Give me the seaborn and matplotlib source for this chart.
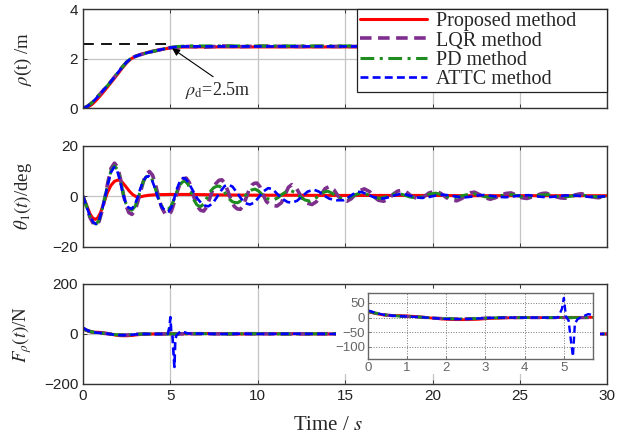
import matplotlib
matplotlib.use("Agg")
import matplotlib.pyplot as plt
import seaborn as sns
from matplotlib.lines import Line2D
from matplotlib.patches import Rectangle

# ---------------- data ----------------
methods = ["Proposed method", "LQR method", "PD method", "ATTC method"]

# rho(t) [m]
t_rho = [0, 0.25, 0.5, 0.75, 1.0, 1.25, 1.5, 1.75, 2.0, 2.25, 2.5, 2.75, 3.0, 3.25, 3.5,
         3.75, 4.0, 4.5, 5.0, 5.5, 6, 7, 8, 9, 10, 12, 14, 16, 18, 20, 22, 24, 26, 28, 30]
rho_prop = [0, 0.04, 0.15, 0.32, 0.52, 0.73, 0.95, 1.17, 1.4, 1.63, 1.84, 2.0, 2.1, 2.17, 2.22,
            2.27, 2.31, 2.38, 2.44, 2.47, 2.48, 2.48, 2.48, 2.48, 2.48, 2.48, 2.48, 2.48, 2.48,
            2.48, 2.48, 2.48, 2.48, 2.48, 2.48]
rho_lqr = [0, 0.08, 0.22, 0.4, 0.6, 0.8, 1.0, 1.22, 1.45, 1.67, 1.87, 2.02, 2.1, 2.16, 2.21,
           2.26, 2.3, 2.38, 2.45, 2.48, 2.5, 2.47, 2.52, 2.49, 2.51, 2.5, 2.5, 2.5, 2.5,
           2.5, 2.5, 2.5, 2.5, 2.5, 2.5]
rho_pd = [0, 0.08, 0.22, 0.4, 0.6, 0.8, 1.0, 1.22, 1.45, 1.67, 1.87, 2.02, 2.1, 2.16, 2.21,
          2.26, 2.3, 2.38, 2.46, 2.5, 2.52, 2.52, 2.52, 2.52, 2.52, 2.52, 2.52, 2.52, 2.52,
          2.52, 2.52, 2.52, 2.52, 2.52, 2.52]
rho_attc = [0, 0.08, 0.22, 0.4, 0.6, 0.8, 1.0, 1.22, 1.45, 1.67, 1.87, 2.02, 2.1, 2.16, 2.21,
            2.26, 2.3, 2.38, 2.45, 2.49, 2.5, 2.5, 2.5, 2.5, 2.5, 2.5, 2.5, 2.5, 2.5,
            2.5, 2.5, 2.5, 2.5, 2.5, 2.5]
rho_d_t = [0, 5.1]
rho_d_v = [2.6, 2.6]

# theta_1(t) [deg]
t_th_prop = [0, 0.2, 0.4, 0.55, 0.7, 0.85, 1.0, 1.2, 1.4, 1.6, 1.8, 2.0, 2.1, 2.25, 2.45, 2.65,
             2.85, 3.05, 3.25, 3.5, 3.8, 4.2, 5, 6, 7, 8, 10, 12, 14, 16, 18, 20, 22, 24, 26, 28, 30]
th_prop = [0, -3.5, -7, -8.6, -9.2, -8.5, -6.5, -2.5, 1.5, 4.3, 5.9, 6.4, 6.3, 5.5, 3.8, 2.0,
           0.6, -0.2, -0.3, 0.1, 0.4, 0.6, 0.7, 0.7, 0.6, 0.5, 0.4, 0.4, 0.3, 0.3, 0.3, 0.3,
           0.2, 0.2, 0.2, 0.2, 0.2]

t_th_lqr = [0, 0.2, 0.4, 0.6, 0.75, 0.92, 1.1, 1.27, 1.42, 1.6, 1.8, 1.98, 2.14, 2.3, 2.45, 2.62,
            2.8, 2.98, 3.14, 3.3, 3.46, 3.62, 3.8, 3.98, 4.15, 4.33, 4.5, 4.7, 4.88, 5.05, 5.22,
            5.38, 5.55, 5.72, 5.9, 6.08, 6.24, 6.4, 6.56, 6.73, 6.9, 7.07, 7.24, 7.42, 7.6, 7.78,
            7.95, 8.12, 8.3, 8.47, 8.65, 8.82, 9.0, 9.17, 9.34, 9.5, 9.66, 9.8, 9.95, 10.12, 10.3,
            10.5, 10.78, 11.1, 11.35, 11.55, 11.75, 11.95, 12.2, 12.45, 12.75, 13.1, 13.35, 13.6,
            13.85, 14.1, 14.35, 14.6, 14.85, 15.1, 15.35, 15.6, 15.85, 16.1, 16.4, 16.65, 16.9,
            17.2, 17.5, 17.75, 18.0, 18.3, 18.55, 18.8, 19.05, 19.3, 19.55, 19.8, 20.2, 20.5,
            20.8, 21.1, 21.4, 21.7, 21.95, 22.2, 22.4, 22.7, 23.0, 23.3, 23.6, 23.9, 24.2, 24.5,
            24.8, 25.1, 25.4, 25.7, 26.0, 26.3, 26.5, 26.8, 27.1, 27.35, 27.6, 27.9, 28.2, 28.5,
            28.8, 29.1, 29.35, 29.5, 29.75, 30]
th_lqr = [0, -4, -8.5, -11, -11.5, -10, -5.5, 0, 5.5, 11, 13.1, 11.5, 7, 1, -3.5, -6.5,
          -7.2, -5.5, -2, 2, 6, 8.8, 9.8, 8.3, 4.5, -0.5, -4.5, -7, -7.6, -6, -2.5,
          1.5, 5, 6.8, 7.2, 5.5, 2, -1.5, -4.2, -5.6, -5.9, -4.4, -1, 2.5, 5, 6.3,
          6.5, 5, 1.8, -1.5, -4, -5, -5.2, -3.8, -0.5, 2.5, 4.4, 5.1, 5.2, 3.8, 0.6,
          -2.2, -3.6, -3.9, -2.6, 0.5, 3.5, 4.6, 3.3, 0.2, -2.6, -3.3, -2.2, 0.5,
          3, 3.9, 2.6, 0, -1.6, -2.0, -1, 0.8, 2.3, 2.9, 1.8, -0.2, -1.6,
          -2.0, -1, 0.8, 2.0, 2.4, 1.4, 0, -0.7, -0.8, 0, 1.3, 2.0, 1,
          -0.6, -1.6, -1.8, -0.8, 0.6, 1.4, 1.6, 0.6, -0.6, -1.2, -0.6, 0.4, 1.1, 1.3,
          0.4, -0.6, -0.9, -0.3, 0.5, 1.1, 1.2, 0.5, -0.3, -0.7, -0.8, -0.2, 0.6, 1.0,
          0.5, -0.2, -0.5, -0.6, -0.2, 0.2]

t_th_pd = [0, 0.2, 0.4, 0.6, 0.75, 0.92, 1.1, 1.27, 1.42, 1.6, 1.8, 1.98, 2.14, 2.3, 2.45, 2.62,
           2.8, 2.98, 3.14, 3.3, 3.45, 3.6, 3.75, 3.93, 4.1, 4.3, 4.48, 4.67, 4.85, 5.02, 5.2,
           5.37, 5.53, 5.7, 5.85, 6.02, 6.18, 6.35, 6.5, 6.62, 6.75, 6.92, 7.1, 7.3, 7.48, 7.65,
           7.8, 7.98, 8.17, 8.38, 8.55, 8.7, 8.85, 9.05, 9.25, 9.45, 9.65, 9.85, 10.05, 10.3,
           10.55, 10.9, 11.15, 11.4, 11.65, 11.9, 12.15, 12.4, 12.7, 13.0, 13.25, 13.5, 13.75,
           14.0, 14.25, 14.5, 14.75, 15.0, 15.25, 15.5, 15.75, 16.0, 16.3, 16.55, 16.8, 17.0,
           17.3, 17.6, 17.85, 18.1, 18.4, 18.7, 19.0, 19.2, 19.5, 19.8, 20.2, 20.5, 20.8, 21.1,
           21.3, 21.6, 21.9, 22.2, 22.4, 22.7, 23.0, 23.4, 23.7, 24.0, 24.5, 24.8, 25.1, 25.5,
           25.8, 26.1, 26.6, 26.9, 27.2, 27.6, 27.9, 28.2, 28.6, 28.9, 29.3, 29.6, 30]
th_pd = [0, -4, -8.2, -10.5, -11, -9.5, -5, 0, 5, 10, 12, 10.5, 6.5, 1, -2.8, -5,
         -5.5, -4, -1, 2.5, 5.8, 7.6, 8.2, 7, 3.8, -0.5, -3.8, -5, -5.3, -4.2, -1.5,
         1.8, 4.4, 5.7, 6, 4.6, 1.6, -1.5, -3.3, -3.9, -4, -3, -0.5, 2, 3.4, 3.9,
         4, 3, 0.8, -1.2, -2.2, -2.5, -2.6, -1.7, 0, 1.6, 2.5, 2.8, 2, 0.3,
         -1, -1.5, -0.6, 0.8, 1.9, 2.2, 1.4, -0.2, -1.5, -2, -1.2, 0.3, 1.5,
         2, 1.2, 0, -0.8, -1, -0.4, 0.4, 1, 1.2, 0.6, -0.2, -0.7, -0.8,
         -0.3, 0.4, 0.9, 1, 0.4, -0.3, -0.6, -0.6, 0, 0.8, 1.2, 0.6, -0.2, -0.5,
         -0.5, 0, 0.5, 0.8, 0.9, 0.4, -0.2, -0.4, -0.1, 0.3, 0.6, 0.3, -0.2, -0.3,
         0, 0.4, 0.6, 0.2, -0.1, -0.3, 0, 0.3, 0.4, 0.1, -0.2, -0.2, 0]

t_th_attc = [0, 0.2, 0.4, 0.6, 0.75, 0.92, 1.1, 1.27, 1.42, 1.6, 1.78, 1.96, 2.12, 2.28, 2.44,
             2.6, 2.78, 2.96, 3.12, 3.28, 3.44, 3.6, 3.75, 3.92, 4.1, 4.28, 4.48, 4.7, 4.9,
             5.07, 5.22, 5.38, 5.55, 5.72, 5.85, 6.05, 6.3, 6.55, 6.8, 7.0, 7.17, 7.4, 7.65,
             7.9, 8.1, 8.3, 8.55, 8.8, 9.05, 9.3, 9.55, 9.8, 10.05, 10.3, 10.6, 10.85, 11.1,
             11.4, 11.7, 11.95, 12.25, 12.55, 12.85, 13.2, 13.5, 13.8, 14.1, 14.5, 14.9, 15.2,
             15.45, 15.7, 16.0, 16.3, 16.6, 16.9, 17.2, 17.5, 17.8, 18.1, 18.4, 18.7, 19.0,
             19.4, 19.8, 20.2, 20.6, 21.0, 21.4, 21.8, 22.2, 22.6, 23.0, 23.4, 23.8, 24.2,
             24.6, 25.0, 25.5, 25.9, 26.3, 26.8, 27.2, 27.6, 28.1, 28.6, 29.0, 29.5, 30]
th_attc = [0, -4, -8, -10.5, -11, -9.5, -5, 0, 4.8, 9.5, 11.5, 10, 6, 1, -2.5,
           -4.5, -5, -3.5, -0.5, 3, 6, 7.6, 8, 6.8, 3.5, -0.5, -4, -5.8, -6,
           -4.2, -0.8, 3, 6, 7.2, 7, 5.2, 2, -1, -3, -3.8, -4, -3, -0.5,
           2.2, 4, 4.6, 3.8, 1.5, -1, -2.8, -3.3, -2.5, -0.5, 1.8, 3.2, 2.8, 1,
           -1, -2.3, -2.6, -1.8, 0, 1.8, 2.6, 1.8, 0.2, -1, -1.6, -1.6, -0.4,
           0.8, 1.8, 1.5, 0.6, -0.3, -0.8, -0.9, -0.4, 0.3, 0.8, 0.8, 0.2, -0.4,
           -0.7, -0.3, 0.3, 0.6, 0.3, -0.2, -0.5, -0.2, 0.3, 0.5, 0.1, -0.3, -0.4,
           -0.1, 0.3, 0.4, 0, -0.3, -0.3, 0, 0.3, 0.3, 0, -0.3, -0.2, 0]

# F_rho(t) [N]
t_f = [0, 0.2, 0.4, 0.6, 0.8, 1.0, 1.3, 1.6, 1.9, 2.2, 2.5, 2.8, 3.1, 3.5, 4, 4.5, 5, 5.5,
       6, 7, 8, 9, 10, 12, 14, 16, 18, 20, 22, 24, 26, 28, 30]
f_prop = [20, 14, 9, 7, 7, 6, 3, -1, -5, -7, -7, -6, -3, -1, 0, 0, 1, 1,
          1, 2, 1, 0, 1, 1, 0, 1, 0, 0, 0, 0, 0, 0, 0]
f_lqr = [22, 15, 10, 7, 5, 4, 2, -1, -3, -4, -4, -3, -1, 0, 0, 0, 0, 0,
         1, 1, 0, 1, 1, 0, 1, 0, 0, 0, 0, 0, 0, 0, 0]
f_pd = [22, 15, 10, 7, 5, 4, 2, -1, -3, -4, -4, -3, -1, 0, 0, 0, 0, 0,
        1, 1, 0, 1, 1, 0, 1, 0, 0, 0, 0, 0, 0, 0, 0]
t_f_attc = [0, 0.2, 0.4, 0.6, 0.8, 1.0, 1.3, 1.6, 1.9, 2.2, 2.5, 2.8, 3.1, 3.5, 4, 4.5, 4.85,
            4.95, 5.0, 5.05, 5.12, 5.18, 5.23, 5.28, 5.35, 5.5, 5.62, 5.75, 6, 7, 8, 9, 10,
            12, 14, 16, 18, 20, 22, 24, 26, 28, 30]
f_attc = [25, 16, 10, 7, 5, 4, 2, -1, -4, -5, -5, -3, -1, 0, 0, 0, 0,
          30, 67, 5, -10, -80, -132, -20, -5, 5, 12, 8, 2, 1, 0, 1, 0,
          1, 0, 0, 0, 0, 0, 0, 0, 0, 0]

x_ticks = [0, 5, 10, 15, 20, 25, 30]
inset_xticks = [0, 1, 2, 3, 4, 5]
inset_yticks = [50, 0, -50, -100]

# ---------------- styling ----------------
sns.set_style("ticks")
plt.rcParams.update({
    "font.family": ["Liberation Sans", "DejaVu Sans"],
    "mathtext.fontset": "stix",
    "xtick.direction": "in", "ytick.direction": "in",
    "xtick.top": True, "ytick.right": True,
    "xtick.major.size": 3, "ytick.major.size": 3,
    "xtick.major.width": 0.6, "ytick.major.width": 0.6,
    "axes.edgecolor": "#333333", "axes.linewidth": 1.0,
})

styles = {
    "Proposed method": dict(color="#ff0000", lw=2.2, dashes=None),
    "LQR method": dict(color="#7e2f8e", lw=2.6, dashes=(3.2, 1.8)),
    "PD method": dict(color="#1e8c1e", lw=2.2, dashes=(4.5, 1.8, 1.0, 1.8)),
    "ATTC method": dict(color="#0000ff", lw=1.9, dashes=(3.0, 1.6)),
}


def draw(ax, t, v, key, scale=1.0):
    st = styles[key]
    sns.lineplot(x=t, y=v, ax=ax, color=st["color"], lw=st["lw"] * scale,
                 estimator=None, sort=False, legend=False)
    line = ax.lines[-1]
    if st["dashes"] is not None:
        line.set_dashes(st["dashes"])


W, H = 629, 441
fig = plt.figure(figsize=(6.29, 4.41), dpi=100)
ax1 = fig.add_axes([0.132, 0.7544, 0.8335, 0.2245])
ax2 = fig.add_axes([0.132, 0.4406, 0.8335, 0.2290])
ax3 = fig.add_axes([0.132, 0.1293, 0.8335, 0.2268])

serif = ["Liberation Serif", "DejaVu Serif"]

# top panel
ax1.plot(rho_d_t, rho_d_v, color="k", lw=1.3, ls=(0, (6, 4)))
draw(ax1, t_rho, rho_prop, "Proposed method")
draw(ax1, t_rho, rho_lqr, "LQR method")
draw(ax1, t_rho, rho_pd, "PD method")
draw(ax1, t_rho, rho_attc, "ATTC method")
ax1.set_ylim(0, 4)
ax1.set_yticks([0, 2, 4])
ax1.set_ylabel(r"$\rho$(t) /m", family=serif, fontsize=13.5)
ax1.annotate(r"$\rho_{\mathrm{d}}$=2.5m", xy=(5.1, 2.42), xytext=(5.85, 0.72),
             fontsize=13, family=serif, ha="left", va="center",
             arrowprops=dict(arrowstyle="-|>", color="k", lw=0.8, mutation_scale=11,
                             shrinkA=0, shrinkB=0, relpos=(0.5, 1.0)))

# middle panel
draw(ax2, t_th_prop, th_prop, "Proposed method")
draw(ax2, t_th_lqr, th_lqr, "LQR method")
draw(ax2, t_th_pd, th_pd, "PD method")
draw(ax2, t_th_attc, th_attc, "ATTC method")
ax2.set_ylim(-20, 20)
ax2.set_yticks([-20, 0, 20])
ax2.set_ylabel(r"$\theta_1(t)$/deg", family=serif, fontsize=13.5)

# bottom panel
draw(ax3, t_f, f_prop, "Proposed method")
draw(ax3, t_f, f_lqr, "LQR method")
draw(ax3, t_f, f_pd, "PD method")
draw(ax3, t_f_attc, f_attc, "ATTC method")
ax3.set_ylim(-200, 200)
ax3.set_yticks([-200, 0, 200])
ax3.set_ylabel(r"$F_\rho(t)$/N", family=serif, fontsize=13.5)
ax3.set_xlabel(r"Time / $\mathit{s}$", family=serif, fontsize=15)
ax3.xaxis.set_label_coords(0.467, -0.32)

for ax in (ax1, ax2, ax3):
    ax.set_xlim(0, 30)
    ax.set_xticks(x_ticks)
    ax.grid(True, color="#c4c4c4", lw=0.9)
    ax.set_axisbelow(True)
    ax.tick_params(labelsize=11, colors="#222222")
    ax.yaxis.set_label_coords(-0.094, 0.5)

for ax in (ax1, ax2):
    ax.set_xticklabels([])
    ax.set_xlabel("")

# legend
handles = []
for m in methods:
    st = styles[m]
    h = Line2D([0], [0], color=st["color"], lw=st["lw"])
    if st["dashes"] is not None:
        h.set_dashes(st["dashes"])
    handles.append(h)
leg_left = (357 - 83) / 524
leg = ax1.legend(handles, methods, loc="upper left", mode="expand",
                 bbox_to_anchor=(leg_left, 0.0, 1.0 - leg_left, 1.0),
                 borderaxespad=0.0, frameon=True, fancybox=False, framealpha=1,
                 edgecolor="#222222", prop={"family": serif, "size": 14.5},
                 handlelength=3.3, handletextpad=0.45, labelspacing=0.0,
                 borderpad=0.15)
leg.get_frame().set_linewidth(0.9)

# white backing behind the inset and its tick labels
ax3.add_patch(Rectangle((336 / W, 1 - 374 / H), (600 - 336) / W, (374 - 289) / H,
                        transform=fig.transFigure, facecolor="white", edgecolor="none",
                        zorder=10, clip_on=False))

# inset
axi = fig.add_axes([0.5846, 0.1853, 0.3587, 0.1497])
draw(axi, t_f, f_prop, "Proposed method", 0.9)
draw(axi, t_f, f_lqr, "LQR method", 0.9)
draw(axi, t_f, f_pd, "PD method", 0.9)
draw(axi, t_f_attc, f_attc, "ATTC method", 0.9)
axi.set_xlim(0, 5.75)
axi.set_ylim(-142, 83)
axi.set_xticks(inset_xticks)
axi.set_yticks(inset_yticks)
axi.grid(True, color="#777777", lw=0.7, ls=":")
axi.set_axisbelow(True)
axi.tick_params(labelsize=9.5, colors="#666666", length=2, top=False, right=False,
                labelcolor="#666666", pad=2)
for s in axi.spines.values():
    s.set_color("#666666")
axi.set_facecolor("white")

fig.savefig("out.png", dpi=100)
